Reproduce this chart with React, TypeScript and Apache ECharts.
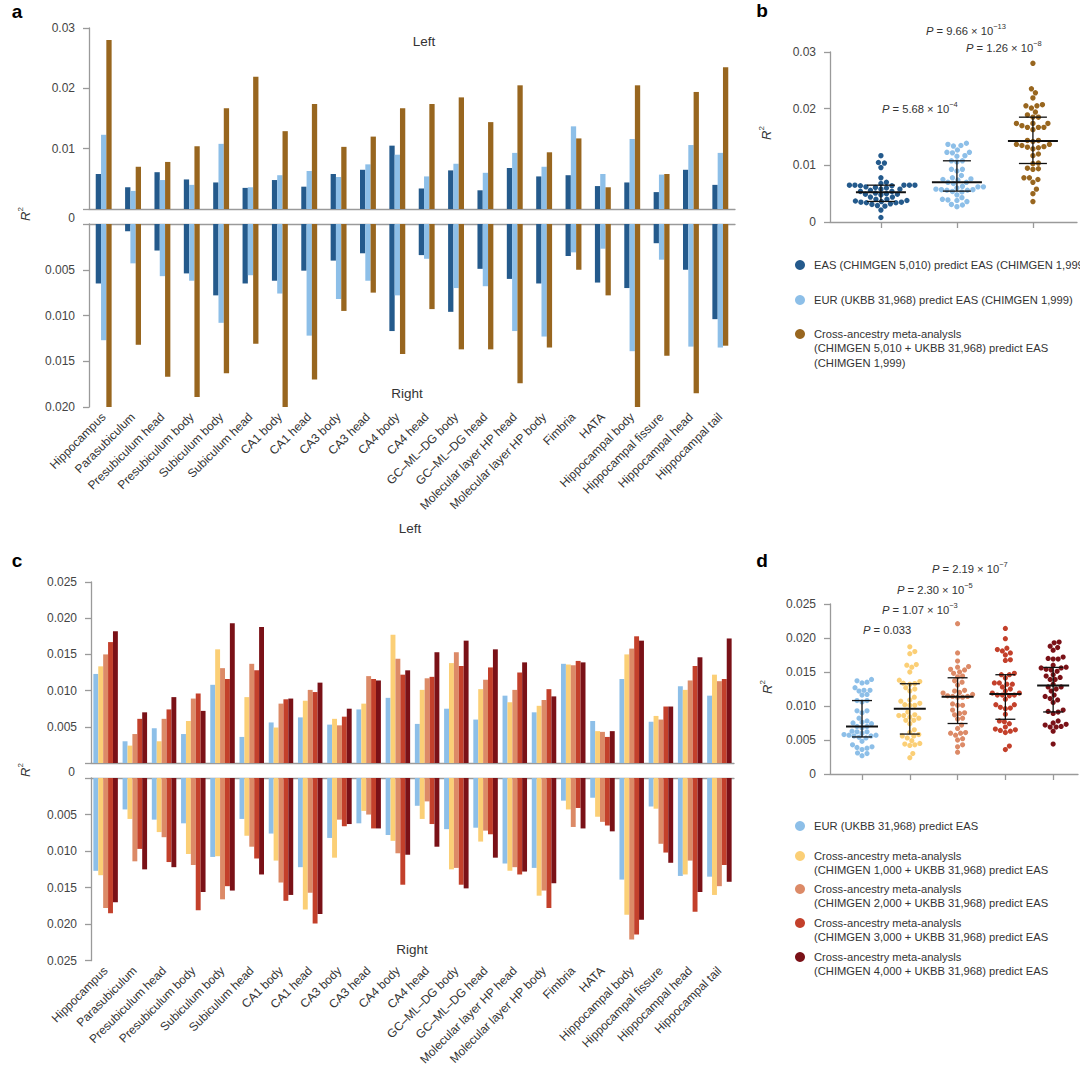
import React, { useEffect, useRef } from 'react';
import * as echarts from 'echarts';

const regions = [
  'Hippocampus', 'Parasubiculum', 'Presubiculum head', 'Presubiculum body', 'Subiculum body',
  'Subiculum head', 'CA1 body', 'CA1 head', 'CA3 body', 'CA3 head', 'CA4 body', 'CA4 head',
  'GC–ML–DG body', 'GC–ML–DG head', 'Molecular layer HP head', 'Molecular layer HP body',
  'Fimbria', 'HATA', 'Hippocampal body', 'Hippocampal fissure', 'Hippocampal head', 'Hippocampal tail',
];

// Panel a – left hemisphere
const aEasLeft = [0.0058, 0.0036, 0.0061, 0.0049, 0.0044, 0.0035, 0.0048, 0.0037, 0.0058, 0.0065, 0.0105, 0.0034, 0.0064, 0.0031, 0.0068, 0.0054, 0.0056, 0.0038, 0.0044, 0.0028, 0.0065, 0.0040];
const aEurLeft = [0.0123, 0.0030, 0.0048, 0.0040, 0.0108, 0.0036, 0.0056, 0.0063, 0.0053, 0.0074, 0.0090, 0.0054, 0.0075, 0.0060, 0.0093, 0.0070, 0.0137, 0.0058, 0.0116, 0.0057, 0.0106, 0.0093];
const aMetaLeft = [0.0280, 0.0070, 0.0078, 0.0104, 0.0167, 0.0219, 0.0129, 0.0174, 0.0103, 0.0120, 0.0167, 0.0174, 0.0185, 0.0144, 0.0205, 0.0094, 0.0117, 0.0036, 0.0205, 0.0058, 0.0194, 0.0235];
// Panel a – right hemisphere
const aEasRight = [0.0065, 0.0008, 0.0029, 0.0054, 0.0078, 0.0065, 0.0062, 0.0051, 0.0040, 0.0032, 0.0117, 0.0034, 0.0096, 0.0049, 0.0060, 0.0065, 0.0035, 0.0064, 0.0070, 0.0021, 0.0050, 0.0104];
const aEurRight = [0.0127, 0.0043, 0.0057, 0.0062, 0.0108, 0.0056, 0.0076, 0.0122, 0.0082, 0.0062, 0.0078, 0.0038, 0.0070, 0.0068, 0.0117, 0.0123, 0.0031, 0.0027, 0.0139, 0.0039, 0.0134, 0.0135];
const aMetaRight = [0.0228, 0.0132, 0.0167, 0.0189, 0.0163, 0.0131, 0.0201, 0.0170, 0.0095, 0.0075, 0.0142, 0.0093, 0.0137, 0.0137, 0.0174, 0.0135, 0.0050, 0.0078, 0.0207, 0.0144, 0.0185, 0.0133];

// Panel c – left hemisphere (EUR series shared with panel a)
const c1kLeft = [0.01335, 0.0024, 0.0030, 0.0058, 0.0157, 0.0091, 0.0049, 0.0086, 0.0061, 0.0082, 0.0177, 0.0101, 0.0138, 0.0102, 0.0084, 0.0079, 0.0136, 0.0044, 0.0150, 0.0065, 0.0101, 0.0122];
const c2kLeft = [0.0150, 0.0040, 0.0061, 0.0089, 0.0131, 0.0137, 0.0082, 0.0101, 0.0052, 0.0120, 0.0144, 0.0117, 0.0153, 0.0115, 0.0101, 0.0087, 0.0135, 0.0043, 0.0158, 0.0060, 0.0114, 0.0113];
const c3kLeft = [0.0167, 0.0061, 0.0074, 0.0096, 0.0116, 0.0128, 0.0088, 0.0098, 0.0064, 0.0116, 0.0122, 0.0119, 0.0134, 0.0132, 0.0125, 0.0102, 0.0141, 0.0036, 0.0175, 0.0078, 0.0134, 0.0116];
const c4kLeft = [0.0182, 0.0070, 0.0091, 0.0072, 0.0193, 0.0188, 0.0089, 0.0111, 0.0075, 0.0114, 0.0128, 0.0153, 0.0169, 0.0157, 0.0139, 0.0092, 0.0139, 0.0044, 0.0169, 0.0078, 0.0146, 0.0172];
// Panel c – right hemisphere
const c1kRight = [0.0133, 0.0056, 0.0074, 0.0104, 0.0107, 0.0079, 0.0113, 0.0180, 0.0109, 0.0045, 0.0086, 0.0056, 0.0125, 0.0087, 0.0127, 0.0161, 0.0043, 0.0053, 0.0187, 0.0042, 0.0132, 0.0160];
const c2kRight = [0.0178, 0.0114, 0.0081, 0.0119, 0.0166, 0.0094, 0.0143, 0.0157, 0.0057, 0.0050, 0.0103, 0.0032, 0.0123, 0.0072, 0.0122, 0.0154, 0.0067, 0.0060, 0.0221, 0.0090, 0.0113, 0.0148];
const c3kRight = [0.0185, 0.0097, 0.0115, 0.0181, 0.0148, 0.0110, 0.0168, 0.0199, 0.0066, 0.0069, 0.0146, 0.0063, 0.0146, 0.0077, 0.0132, 0.0178, 0.0041, 0.0065, 0.0214, 0.0102, 0.0183, 0.0119];
const c4kRight = [0.0170, 0.0125, 0.0122, 0.0156, 0.0154, 0.0132, 0.0160, 0.0186, 0.0063, 0.0069, 0.0105, 0.0094, 0.0151, 0.0109, 0.0128, 0.0144, 0.0069, 0.0073, 0.0194, 0.0116, 0.0156, 0.0142];

const aNames = [
  'EAS (CHIMGEN 5,010) predict EAS (CHIMGEN 1,999)',
  'EUR (UKBB 31,968) predict EAS (CHIMGEN 1,999)',
  'Cross-ancestry meta-analysls\n(CHIMGEN 5,010 + UKBB 31,968) predict EAS\n(CHIMGEN 1,999)',
];
const cNames = [
  'EUR (UKBB 31,968) predict EAS',
  'Cross-ancestry meta-analysls\n(CHIMGEN 1,000 + UKBB 31,968) predict EAS',
  'Cross-ancestry meta-analysls\n(CHIMGEN 2,000 + UKBB 31,968) predict EAS',
  'Cross-ancestry meta-analysls\n(CHIMGEN 3,000 + UKBB 31,968) predict EAS',
  'Cross-ancestry meta-analysls\n(CHIMGEN 4,000 + UKBB 31,968) predict EAS',
];
const bPvalues = [
  { mant: '9.66', exp: '−13' },
  { mant: '1.26', exp: '−8' },
  { mant: '5.68', exp: '−4' },
];
const dPvalues = [
  { mant: '2.19', exp: '−7' },
  { mant: '2.30', exp: '−5' },
  { mant: '1.07', exp: '−3' },
  { mant: '0.033', exp: '' },
];

const aColors = ['#245a8c', '#8dbfe8', '#98661f'];
const cColors = ['#8dbfe8', '#fbcf76', '#dc8a67', '#c3402b', '#7a1117'];

const FONT = '"Liberation Sans", Arial, Helvetica, sans-serif';
const AX = '#9a9a9a';
const TXT = '#333333';

function quantile(vals: number[], p: number) {
  const s = [...vals].sort((a, b) => a - b);
  const n = s.length;
  let pos = (n + 1) * p - 1;
  if (pos < 0) pos = 0;
  if (pos > n - 1) pos = n - 1;
  const lo = Math.floor(pos);
  const hi = Math.ceil(pos);
  return s[lo] + (s[hi] - s[lo]) * (pos - lo);
}

function beeswarm(vals: number[], pyPerUnit: number, d: number) {
  const idx = vals.map((_, i) => i).sort((a, b) => vals[a] - vals[b]);
  const placed: { x: number; y: number }[] = [];
  const out = new Array(vals.length).fill(0);
  for (const i of idx) {
    const y = vals[i] * pyPerUnit;
    let best = 0;
    for (let k = 0; k < 600; k++) {
      const step = Math.ceil(k / 2) * 0.5;
      const cand = k === 0 ? 0 : k % 2 === 1 ? step : -step;
      let ok = true;
      for (const p of placed) {
        const dx = p.x - cand;
        const dy = p.y - y;
        if (dx * dx + dy * dy < d * d) { ok = false; break; }
      }
      if (ok) { best = cand; break; }
    }
    placed.push({ x: best, y });
    out[i] = best;
  }
  return out;
}

function swarmData(groups: number[][], pxX: number, pyY: number, d: number) {
  return groups.map((vals, gi) => {
    const off = beeswarm(vals, pyY, d);
    return vals.map((v, i) => [gi + off[i] / pxX, v]);
  });
}

function errRender(mw: number, cw: number) {
  return (params: any, api: any) => {
    const x = api.value(0);
    const pm = api.coord([x, api.value(1)]);
    const p1 = api.coord([x, api.value(2)]);
    const p3 = api.coord([x, api.value(3)]);
    const st = { stroke: '#111', lineWidth: 1.3 };
    return {
      type: 'group',
      children: [
        { type: 'line', shape: { x1: p1[0], y1: p1[1], x2: p3[0], y2: p3[1] }, style: st },
        { type: 'line', shape: { x1: p1[0] - cw, y1: p1[1], x2: p1[0] + cw, y2: p1[1] }, style: st },
        { type: 'line', shape: { x1: p3[0] - cw, y1: p3[1], x2: p3[0] + cw, y2: p3[1] }, style: st },
        { type: 'line', shape: { x1: pm[0] - mw, y1: pm[1], x2: pm[0] + mw, y2: pm[1] }, style: { stroke: '#111', lineWidth: 2 } },
      ],
    };
  };
}

const lineStyle = { color: AX, width: 1.3 };
const yLabel = (fmt: (v: number) => string) => ({
  fontSize: 12, color: '#444', fontFamily: FONT, margin: 14, formatter: fmt,
});
const yTick = { show: true, length: 6, lineStyle };

function catAxes(top: number) {
  return [
    { gridIndex: top, type: 'category', data: regions, position: 'bottom', axisLine: { lineStyle }, axisTick: { show: false }, axisLabel: { show: false } },
    { gridIndex: top + 1, type: 'category', data: regions, position: 'top', axisLine: { onZero: false, lineStyle }, axisTick: { show: false }, axisLabel: { show: false } },
    {
      gridIndex: top + 1, type: 'category', data: regions, position: 'bottom', axisLine: { show: false, onZero: false }, axisTick: { show: false },
      axisLabel: { rotate: 45, interval: 0, fontSize: 12, color: TXT, fontFamily: FONT, margin: 8 },
    },
  ];
}

function richP(mant: string, exp: string) {
  return exp ? `{i|P}{n| = ${mant} × 10}{s|${exp}}` : `{i|P}{n| = ${mant}}`;
}
const pRich = {
  i: { fontStyle: 'italic', fontSize: 11.2, fontFamily: FONT, fill: TXT, lineHeight: 18 },
  n: { fontSize: 11.2, fontFamily: FONT, fill: TXT, lineHeight: 18 },
  s: { fontSize: 7.5, fontFamily: FONT, fill: TXT, lineHeight: 8, verticalAlign: 'top' },
};
const r2Rich = {
  i: { fontStyle: 'italic', fontSize: 13, fontFamily: FONT, fill: TXT, lineHeight: 18 },
  s: { fontSize: 8, fontFamily: FONT, fill: TXT, lineHeight: 8, verticalAlign: 'top' },
};

function text(x: number, y: number, t: string, extra: any = {}) {
  return {
    type: 'text', x, y,
    style: { text: t, fontFamily: FONT, fontSize: 13.5, fill: TXT, align: 'center', verticalAlign: 'middle', ...extra },
  };
}
function r2(x: number, y: number) {
  return { type: 'text', x, y, rotation: Math.PI / 2, style: { text: '{i|R}{s|2}', rich: r2Rich, align: 'center', verticalAlign: 'middle' } };
}
function pText(x: number, y: number, mant: string, exp: string) {
  return { type: 'text', x, y, style: { text: richP(mant, exp), rich: pRich, align: 'left', verticalAlign: 'middle' } };
}
function legendItems(ys: number[], names: string[], colors: string[]) {
  const out: any[] = [];
  names.forEach((n, i) => {
    out.push({ type: 'circle', shape: { cx: 800, cy: ys[i], r: 5 }, style: { fill: colors[i] } });
    out.push({
      type: 'text', x: 814, y: ys[i] - 7.2,
      style: { text: n, fontFamily: FONT, fontSize: 11.2, fill: TXT, align: 'left', verticalAlign: 'top', lineHeight: 14.4 },
    });
  });
  return out;
}

export default function App() {
  const ref = useRef<HTMLDivElement>(null);
  useEffect(() => {
    if (!ref.current) return;
    const chart = echarts.init(ref.current, null, { renderer: 'svg' });

    const bGroups = [aEasLeft.concat(aEasRight), aEurLeft.concat(aEurRight), aMetaLeft.concat(aMetaRight)];
    const dGroups = [
      aEurLeft.concat(aEurRight), c1kLeft.concat(c1kRight), c2kLeft.concat(c2kRight),
      c3kLeft.concat(c3kRight), c4kLeft.concat(c4kRight),
    ];
    const bMin = -0.67, bMax = 2.58, dMin = -0.67, dMax = 4.52;
    const bPx = 247 / (bMax - bMin), bPy = 170 / 0.03;
    const dPx = 248 / (dMax - dMin), dPy = 170 / 0.025;
    const bSwarm = swarmData(bGroups, bPx, bPy, 5.5);
    const dSwarm = swarmData(dGroups, dPx, dPy, 5.0);
    const stats = (gs: number[][]) => gs.map((g, i) => [i, quantile(g, 0.5), quantile(g, 0.25), quantile(g, 0.75)]);

    const aLeft = [aEasLeft, aEurLeft, aMetaLeft];
    const aRight = [aEasRight, aEurRight, aMetaRight];
    const cLeft = [aEurLeft, c1kLeft, c2kLeft, c3kLeft, c4kLeft];
    const cRight = [aEurRight, c1kRight, c2kRight, c3kRight, c4kRight];

    const series: any[] = [];
    aLeft.forEach((d, i) => series.push({ type: 'bar', xAxisIndex: 0, yAxisIndex: 0, data: d, barWidth: 5.3, barGap: '0%', itemStyle: { color: aColors[i] } }));
    aRight.forEach((d, i) => series.push({ type: 'bar', xAxisIndex: 1, yAxisIndex: 1, data: d, barWidth: 5.3, barGap: '0%', itemStyle: { color: aColors[i] } }));
    bSwarm.forEach((d, i) => series.push({ type: 'scatter', xAxisIndex: 3, yAxisIndex: 2, data: d, symbolSize: 5.4, itemStyle: { color: aColors[i], opacity: 1 } }));
    series.push({ type: 'custom', xAxisIndex: 3, yAxisIndex: 2, z: 10, data: stats(bGroups), encode: { x: 0, y: [1, 2, 3] }, renderItem: errRender(25, 14) });
    cLeft.forEach((d, i) => series.push({ type: 'bar', xAxisIndex: 4, yAxisIndex: 3, data: d, barWidth: 4.9, barGap: '0%', itemStyle: { color: cColors[i] } }));
    cRight.forEach((d, i) => series.push({ type: 'bar', xAxisIndex: 5, yAxisIndex: 4, data: d, barWidth: 4.9, barGap: '0%', itemStyle: { color: cColors[i] } }));
    dSwarm.forEach((d, i) => series.push({ type: 'scatter', xAxisIndex: 7, yAxisIndex: 5, data: d, symbolSize: 5.2, itemStyle: { color: cColors[i], opacity: 1 } }));
    series.push({ type: 'custom', xAxisIndex: 7, yAxisIndex: 5, z: 10, data: stats(dGroups), encode: { x: 0, y: [1, 2, 3] }, renderItem: errRender(16, 10) });

    const hide0 = (dec: number) => (v: number) => (v === 0 ? '' : v.toFixed(dec));
    const show0 = (dec: number) => (v: number) => (v === 0 ? '0' : v.toFixed(dec));

    const option: any = {
      animation: false,
      textStyle: { fontFamily: FONT },
      grid: [
        { left: 89, top: 28, width: 646, height: 181 },
        { left: 89, top: 224, width: 646, height: 183 },
        { left: 830, top: 52, width: 247, height: 170 },
        { left: 91, top: 582, width: 643, height: 181 },
        { left: 91, top: 778, width: 643, height: 183 },
        { left: 830, top: 604, width: 248, height: 170 },
      ],
      xAxis: [
        ...catAxes(0),
        {
          gridIndex: 2, type: 'value', min: bMin, max: bMax, splitLine: { show: false },
          axisLine: { show: true, onZero: false, lineStyle }, axisTick: { show: true, customValues: [0, 1, 2], length: 6, lineStyle }, axisLabel: { show: false },
        },
        ...catAxes(3),
        {
          gridIndex: 5, type: 'value', min: dMin, max: dMax, splitLine: { show: false },
          axisLine: { show: true, onZero: false, lineStyle }, axisTick: { show: true, customValues: [0, 1, 2, 3, 4], length: 6, lineStyle }, axisLabel: { show: false },
        },
      ],
      yAxis: [
        { gridIndex: 0, type: 'value', min: 0, max: 0.03, interval: 0.01, splitLine: { show: false }, axisLine: { show: true, onZero: false, lineStyle }, axisTick: yTick, axisLabel: yLabel(hide0(2)) },
        { gridIndex: 1, type: 'value', inverse: true, min: 0, max: 0.02, interval: 0.005, splitLine: { show: false }, axisLine: { show: true, onZero: false, lineStyle }, axisTick: yTick, axisLabel: yLabel(hide0(3)) },
        { gridIndex: 2, type: 'value', min: 0, max: 0.03, interval: 0.01, splitLine: { show: false }, axisLine: { show: true, onZero: false, lineStyle }, axisTick: yTick, axisLabel: yLabel(show0(2)) },
        { gridIndex: 3, type: 'value', min: 0, max: 0.025, interval: 0.005, splitLine: { show: false }, axisLine: { show: true, onZero: false, lineStyle }, axisTick: yTick, axisLabel: yLabel(hide0(3)) },
        { gridIndex: 4, type: 'value', inverse: true, min: 0, max: 0.025, interval: 0.005, splitLine: { show: false }, axisLine: { show: true, onZero: false, lineStyle }, axisTick: yTick, axisLabel: yLabel(hide0(3)) },
        { gridIndex: 5, type: 'value', min: 0, max: 0.025, interval: 0.005, splitLine: { show: false }, axisLine: { show: true, onZero: false, lineStyle }, axisTick: yTick, axisLabel: yLabel(show0(3)) },
      ],
      series,
      graphic: [
        text(17, 11, 'a', { fontSize: 19, fontWeight: 'bold', fill: '#000' }),
        text(762, 10, 'b', { fontSize: 19, fontWeight: 'bold', fill: '#000' }),
        text(17, 560, 'c', { fontSize: 19, fontWeight: 'bold', fill: '#000' }),
        text(762, 560, 'd', { fontSize: 19, fontWeight: 'bold', fill: '#000' }),
        text(424, 41, 'Left'),
        text(407, 393, 'Right'),
        text(410, 528, 'Left'),
        text(412, 949, 'Right'),
        text(75, 218, '0', { fontSize: 12, fill: '#444', align: 'right' }),
        text(75, 772, '0', { fontSize: 12, fill: '#444', align: 'right' }),
        r2(25, 214),
        r2(25, 770),
        r2(766, 133),
        r2(767, 687),
        pText(926, 31, bPvalues[0].mant, bPvalues[0].exp),
        pText(966, 48, bPvalues[1].mant, bPvalues[1].exp),
        pText(882, 109, bPvalues[2].mant, bPvalues[2].exp),
        pText(932, 569, dPvalues[0].mant, dPvalues[0].exp),
        pText(897, 590, dPvalues[1].mant, dPvalues[1].exp),
        pText(882, 610, dPvalues[2].mant, dPvalues[2].exp),
        pText(863, 630, dPvalues[3].mant, dPvalues[3].exp),
        ...legendItems([265, 300, 334], aNames, aColors),
        ...legendItems([826, 856, 889, 923, 957], cNames, cColors),
      ],
    };
    chart.setOption(option);
    return () => chart.dispose();
  }, []);
  return <div ref={ref} style={{ position: 'absolute', left: 0, top: 0, width: 1080, height: 1068, background: '#fff' }} />;
}
